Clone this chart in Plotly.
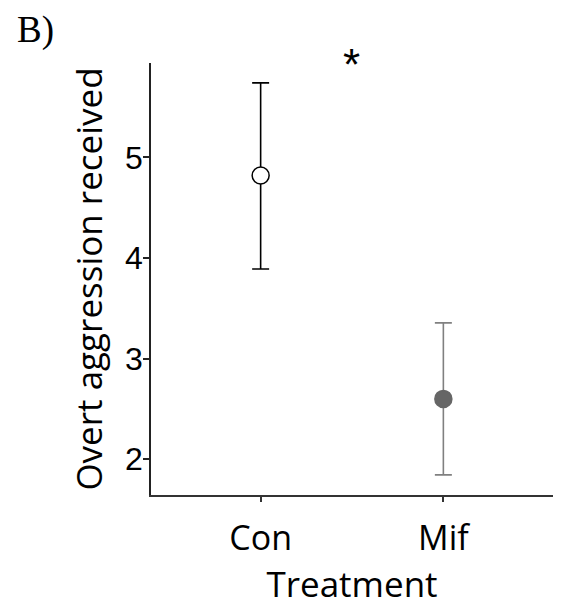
import plotly.graph_objects as go

treatments = ["Con", "Mif"]
means = [4.82, 2.60]
upper = [5.74, 3.355]
lower = [3.89, 1.845]
y_ticks = [2, 3, 4, 5]

marker_fill = ["white", "#666666"]
marker_line = ["black", "#666666"]
bar_colors = ["black", "#808080"]

# page body has an 8px margin, so the figure is drawn 8px smaller
W, H = 558, 602
L, R, T, B = 143, 13, 55, 115
pw, ph = W - L - R, H - T - B

fig = go.Figure()
for i, t in enumerate(treatments):
    fig.add_trace(go.Scatter(
        x=[t], y=[means[i]], mode="markers",
        marker=dict(size=17, color=marker_fill[i],
                    line=dict(color=marker_line[i], width=1.5)),
        error_y=dict(type="data", symmetric=False,
                     array=[upper[i] - means[i]],
                     arrayminus=[means[i] - lower[i]],
                     color=bar_colors[i], thickness=1.6, width=8.5),
        showlegend=False, name=t,
    ))

fig.add_annotation(x=0.5, y=5.937, xref="x", yref="y", text="*",
                   showarrow=False, yanchor="middle", yshift=-1, xshift=-1,
                   font=dict(family="Liberation Sans", size=44, color="black"))
fig.add_annotation(x=(8 - L) / pw, y=1 + T / ph, xref="paper", yref="paper",
                   text="B)", showarrow=False, xanchor="left", yanchor="top",
                   borderpad=0,
                   font=dict(family="Liberation Serif", size=37, color="black"))

fig.update_layout(
    width=W, height=H,
    margin=dict(l=L, r=R, t=T, b=B),
    paper_bgcolor="white", plot_bgcolor="white",
    xaxis=dict(
        type="category", categoryorder="array", categoryarray=treatments,
        range=[-0.6, 1.6], showline=True, linecolor="#333333", linewidth=2,
        ticks="outside", ticklen=5, tickcolor="#333333", tickwidth=1.5,
        ticklabelstandoff=7,
        showgrid=False, zeroline=False,
        tickfont=dict(family="Open Sans", size=34, color="black"),
        title=dict(text="Treatment", font=dict(family="Open Sans", size=35, color="black"),
                   standoff=2),
    ),
    yaxis=dict(
        range=[1.645, 5.937], tickvals=y_ticks,
        showline=True, linecolor="#222222", linewidth=1.5,
        ticks="outside", ticklen=6, tickcolor="#222222", tickwidth=1.5,
        ticklabelstandoff=-6,
        showgrid=False, zeroline=False,
        tickfont=dict(family="Liberation Sans", size=32, color="black"),
        title=dict(text="Overt aggression received",
                   font=dict(family="Open Sans", size=35, color="black"), standoff=12),
    ),
)
fig.write_html("out.html")
